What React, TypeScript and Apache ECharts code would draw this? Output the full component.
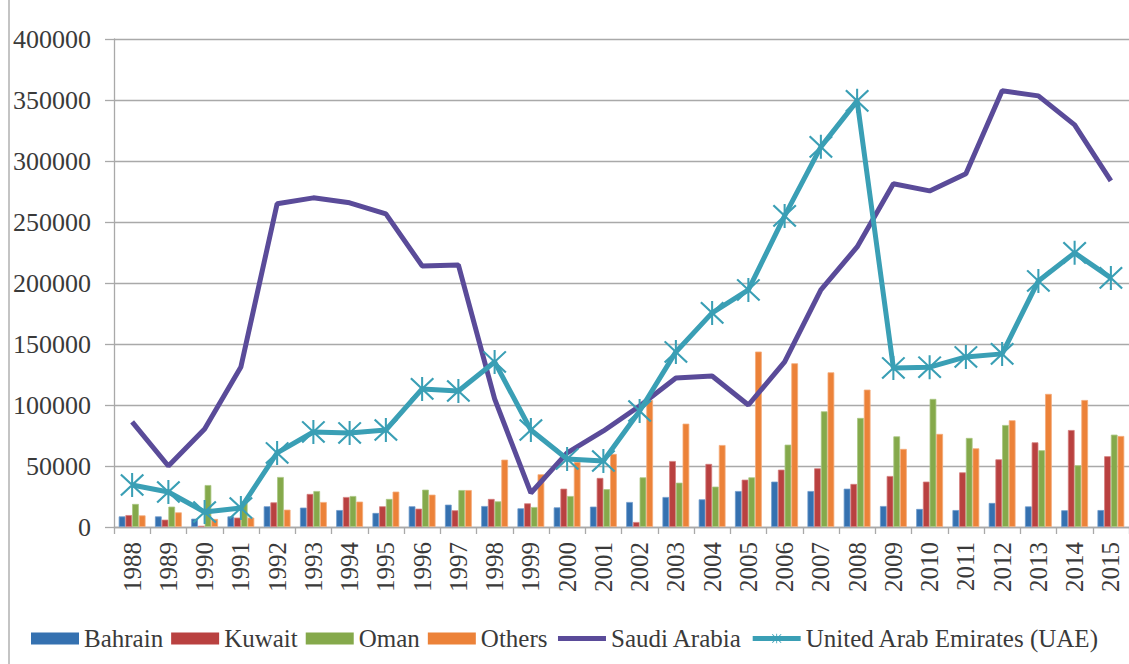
import React, { useEffect, useRef } from "react";
import * as echarts from "echarts";

const years = ["1988","1989","1990","1991","1992","1993","1994","1995","1996","1997","1998","1999","2000","2001","2002","2003","2004","2005","2006","2007","2008","2009","2010","2011","2012","2013","2014","2015"];
const bahrain = [8700, 8700, 6800, 8700, 17000, 15900, 13900, 11500, 17000, 18300, 17200, 15300, 16100, 16700, 20500, 24600, 22700, 29500, 37200, 29500, 31400, 17200, 14800, 13900, 19700, 16900, 13700, 13900];
const kuwait = [9800, 6000, 1000, 7700, 20200, 27100, 24600, 17000, 15000, 13700, 23000, 19400, 31400, 40200, 4100, 54100, 51700, 38800, 47000, 48100, 35300, 41800, 37200, 44800, 55500, 69400, 79500, 58000];
const oman = [18900, 16700, 34400, 21000, 41000, 29500, 25400, 23000, 30600, 30300, 21000, 16400, 25400, 31000, 40700, 36300, 33100, 40700, 67500, 94800, 89400, 74300, 105000, 73000, 83600, 62900, 50600, 75700];
const others = [9500, 12000, 6600, 7700, 14200, 20500, 20800, 29000, 26500, 30300, 55200, 43200, 53300, 59900, 104100, 84700, 67200, 143800, 134200, 126800, 112600, 64000, 76300, 64500, 87500, 109100, 104100, 74600];
const saudi = [86100, 50000, 80400, 131200, 264900, 269800, 265700, 256700, 214000, 214800, 105000, 27900, 60700, 78700, 99200, 122200, 123800, 100000, 135300, 194300, 229600, 281300, 275500, 289500, 357500, 353400, 329600, 283700];
const uae = [34400, 28700, 12300, 15600, 60700, 77900, 77100, 79500, 113200, 111500, 135300, 79500, 55800, 54100, 95100, 143500, 175500, 194300, 255000, 311600, 349300, 130400, 131000, 139400, 141900, 201700, 224700, 204200];

const FONT = '"Liberation Serif", "Times New Roman", Times, serif';
const TEXT = "#3a3a3a";
const GRID = "#a9a9a9";

const star =
  "path://M46 0 L54 0 L54 100 L46 100 Z M3 9 L9 3 L97 91 L91 97 Z M91 3 L97 9 L9 97 L3 91 Z";

export default function App() {
  const ref = useRef<HTMLDivElement>(null);
  useEffect(() => {
    if (!ref.current) return;
    const chart = echarts.init(ref.current, null, { renderer: "svg" });
    const bar = (name: string, data: number[], color: string, edge: string) => ({
      name,
      type: "bar",
      data,
      barGap: "0%",
      barCategoryGap: "26%",
      itemStyle: { color, borderColor: edge, borderWidth: 0.8 },
    });
    chart.setOption({
      animation: false,
      backgroundColor: "#ffffff",
      textStyle: { fontFamily: FONT },
      grid: { left: 114, top: 39, width: 1016, height: 488, containLabel: false },
      graphic: [
        {
          type: "line",
          shape: { x1: 9, y1: 0, x2: 9, y2: 664 },
          style: { stroke: "#c4c4c4", lineWidth: 2 },
        },
      ],
      legend: {
        left: 31,
        top: 626,
        padding: 0,
        width: 1200,
        itemWidth: 48,
        itemHeight: 12,
        itemGap: 8,
        textStyle: { fontFamily: FONT, fontSize: 25, color: TEXT },
        data: [
          { name: "Bahrain", icon: "rect", itemStyle: { borderWidth: 0 } },
          { name: "Kuwait", icon: "rect", itemStyle: { borderWidth: 0 } },
          { name: "Oman", icon: "rect", itemStyle: { borderWidth: 0 } },
          { name: "Others", icon: "rect", itemStyle: { borderWidth: 0 } },
          {
            name: "Saudi Arabia",
            itemStyle: { opacity: 0, color: "rgba(0,0,0,0)" },
            lineStyle: { width: 5, color: "#5a4b99" },
          },
          {
            name: "United Arab Emirates (UAE)",
            lineStyle: { width: 5, color: "#3a9fb5" },
          },
        ],
      },
      xAxis: {
        type: "category",
        data: years,
        boundaryGap: true,
        axisLine: { lineStyle: { color: GRID, width: 1.3 } },
        axisTick: { show: true, length: 7, alignWithLabel: false, lineStyle: { color: GRID, width: 1.3 } },
        axisLabel: { rotate: 90, margin: 15, fontSize: 25, color: TEXT, fontFamily: FONT, interval: 0 },
      },
      yAxis: {
        type: "value",
        min: 0,
        max: 400000,
        interval: 50000,
        axisLine: { show: true, lineStyle: { color: GRID, width: 1.3 } },
        axisTick: { show: true, length: 9, lineStyle: { color: GRID, width: 1.3 } },
        axisLabel: {
          margin: 23,
          fontSize: 26,
          color: TEXT,
          fontFamily: FONT,
          formatter: (v: number) => String(v),
        },
        splitLine: { lineStyle: { color: GRID, width: 1.3 } },
      },
      series: [
        bar("Bahrain", bahrain, "#3571b0", "#6f9bcc"),
        bar("Kuwait", kuwait, "#b94140", "#d47d7c"),
        bar("Oman", oman, "#85a94b", "#aac683"),
        bar("Others", others, "#ec8239", "#f4ab7a"),
        {
          name: "Saudi Arabia",
          type: "line",
          data: saudi,
          symbol: "none",
          lineStyle: { color: "#5a4b99", width: 5 },
          itemStyle: { color: "#5a4b99" },
          z: 3,
        },
        {
          name: "United Arab Emirates (UAE)",
          type: "line",
          data: uae,
          symbol: star,
          symbolSize: 24,
          showAllSymbol: true,
          lineStyle: { color: "#3a9fb5", width: 5 },
          itemStyle: { color: "#3a9fb5" },
          z: 4,
        },
      ],
    });
    return () => chart.dispose();
  }, []);
  return (
    <div
      ref={ref}
      style={{ position: "absolute", left: 0, top: 0, width: 1129, height: 664 }}
    />
  );
}
